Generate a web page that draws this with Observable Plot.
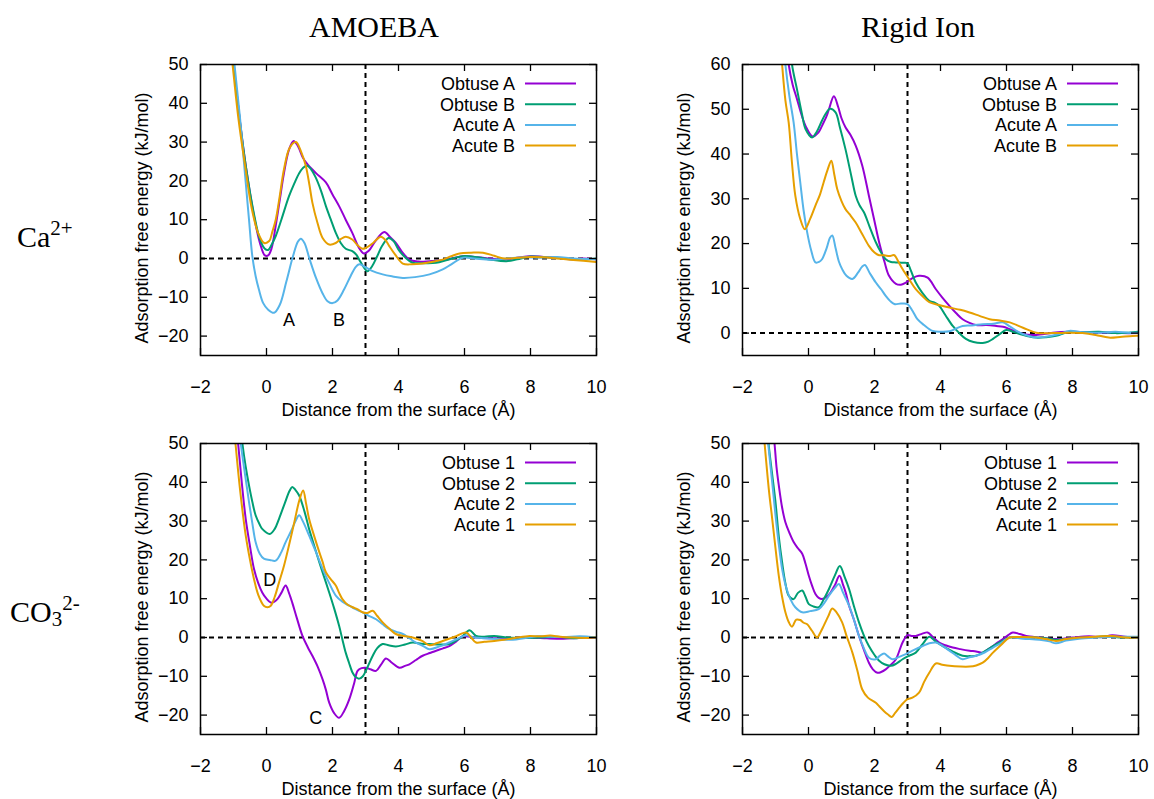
<!DOCTYPE html>
<html><head><meta charset="utf-8">
<script src="https://cdn.jsdelivr.net/npm/d3@7"></script>
<script src="https://cdn.jsdelivr.net/npm/@observablehq/plot@0.6"></script>
<style>
body{margin:0;background:#fff;}
#root{position:relative;width:1154px;height:799px;overflow:hidden;background:#fff;}
.title{position:absolute;font-family:"Liberation Serif","Times New Roman",serif;font-size:30px;line-height:30px;white-space:nowrap;color:#000;}
.center{transform:translateX(-50%);}
.sup{font-size:21px;position:relative;top:-12px;}
.sub{font-size:21px;position:relative;top:4px;}
.panel{position:absolute;}
</style></head>
<body><div id="root"></div>
<script>
// ---------- labels ----------
const columnTitles = ["AMOEBA", "Rigid Ion"];
const xLabel = "Distance from the surface (Å)";
const yLabel = "Adsorption free energy (kJ/mol)";
const caLegend = ["Obtuse A", "Obtuse B", "Acute A", "Acute B"];
const co3Legend = ["Obtuse 1", "Obtuse 2", "Acute 2", "Acute 1"];
const seriesColors = ["#9400d3", "#009e73", "#56b4e9", "#e69f00"];
const xTicks = [-2, 0, 2, 4, 6, 8, 10];
const yTicksA = [-20, -10, 0, 10, 20, 30, 40, 50];
const yTicksRigidCa = [0, 10, 20, 30, 40, 50, 60];
const refY = [0];
const refX = [3];

// ---------- AMOEBA, Ca2+ ----------
const amoebaCaObtuseA = [[-1.15,62],[-1.0,50],[-0.8,35],[-0.63,24],[-0.38,11],[-0.2,4],[-0.05,0.8],[0.05,0.8],[0.15,2.5],[0.28,8.5],[0.4,15],[0.53,22],[0.68,28],[0.82,30.3],[0.95,29],[1.1,26],[1.24,24.3],[1.5,22],[1.8,19.6],[2.0,16.5],[2.2,13.5],[2.4,10],[2.6,6.6],[2.8,2.8],[2.95,1.3],[3.1,2],[3.3,4.5],[3.57,6.8],[3.75,5.5],[3.92,4],[4.1,1.8],[4.33,-0.3],[4.6,-0.8],[4.94,-0.7],[5.3,-0.5],[5.6,0],[5.95,0.6],[6.3,0.4],[6.8,0],[7.2,-0.3],[7.6,0.2],[8.0,0.6],[8.4,0.4],[8.8,0.2],[9.2,-0.2],[9.6,0],[10,-0.2]];
const amoebaCaObtuseB = [[-1.15,62],[-1.0,50],[-0.8,35],[-0.63,24],[-0.38,11.5],[-0.2,5],[-0.05,2.5],[0.05,2.2],[0.15,3.5],[0.28,5.8],[0.45,10],[0.68,16],[0.85,19.5],[0.99,22],[1.1,23.3],[1.22,24],[1.35,23],[1.49,20.9],[1.65,17.5],[1.8,13.5],[1.95,10],[2.1,6.6],[2.25,4],[2.4,2.5],[2.6,1.9],[2.72,1],[2.81,-0.3],[2.95,-2.3],[3.06,-3.3],[3.2,-2],[3.35,0.5],[3.5,3.2],[3.7,5.3],[3.85,4.5],[4.0,2.3],[4.2,0.3],[4.43,-1.1],[4.8,-1.2],[5.14,-1.1],[5.5,-0.3],[5.95,0.6],[6.4,0.3],[6.8,-0.3],[7.27,-0.7],[7.6,-0.2],[8.0,0.5],[8.5,0.3],[9.0,0],[9.5,-0.3],[10,0]];
const amoebaCaAcuteA = [[-1.1,62],[-0.97,50],[-0.8,36],[-0.63,19.6],[-0.53,10],[-0.43,0.6],[-0.33,-4.5],[-0.23,-8],[-0.1,-11.5],[0.05,-13.2],[0.23,-14],[0.4,-12],[0.6,-6],[0.8,0.5],[0.95,4.3],[1.04,5.1],[1.15,4],[1.3,0],[1.5,-5],[1.7,-9],[1.85,-11],[2.0,-11.5],[2.15,-10.8],[2.35,-8],[2.55,-4.5],[2.7,-2.2],[2.81,-1.5],[2.95,-2],[3.2,-3.2],[3.52,-4.1],[3.8,-4.6],[4.13,-5],[4.5,-4.8],[4.94,-4.1],[5.34,-2.8],[5.6,-1.5],[5.95,0.2],[6.3,0],[6.8,-0.3],[7.3,0],[7.8,0.3],[8.3,0.2],[8.8,0.4],[9.3,0],[10,-0.2]];
const amoebaCaAcuteB = [[-1.2,62],[-1.03,50],[-0.85,36],[-0.65,24],[-0.45,13],[-0.25,6.5],[-0.07,4],[0.08,4.5],[0.18,7],[0.28,10],[0.4,16],[0.53,23],[0.7,28.5],[0.89,30],[1.05,27.5],[1.19,23.9],[1.3,19],[1.39,14.4],[1.55,9],[1.7,5.3],[1.9,3.6],[2.1,4],[2.25,5],[2.4,5.6],[2.6,4.9],[2.75,3.5],[2.91,2.5],[3.0,2.7],[3.2,3.8],[3.35,5],[3.47,5.6],[3.6,4.8],[3.72,3.2],[3.9,1],[4.13,-1.3],[4.4,-1.5],[4.73,-1.3],[5.0,-0.9],[5.34,-0.3],[5.6,0.6],[5.85,1.3],[6.2,1.5],[6.56,1.5],[6.9,0.7],[7.2,0],[7.6,0.2],[8.0,0.4],[8.4,0.3],[8.8,0],[9.2,-0.3],[9.6,-0.6],[10,-0.9]];

// ---------- Rigid Ion, Ca2+ ----------
const rigidCaObtuseA = [[-0.72,70],[-0.6,60],[-0.48,55.5],[-0.35,52.3],[-0.2,48.5],[-0.09,46.3],[0.13,43.9],[0.3,44.8],[0.41,46.3],[0.55,48.5],[0.62,50],[0.77,52.9],[0.9,50.5],[1.0,48],[1.12,46],[1.27,44.3],[1.43,41.9],[1.63,37.4],[1.83,30.7],[2.0,25],[2.14,20.3],[2.3,16],[2.44,12.8],[2.65,11],[2.8,10.8],[2.95,11.3],[3.15,12.3],[3.35,12.8],[3.61,12.4],[3.86,9.8],[4.05,8],[4.27,6.1],[4.47,4.5],[4.67,3.1],[4.88,2.3],[5.08,1.8],[5.4,1.8],[5.69,1.6],[5.9,1.4],[6.1,0.9],[6.5,-0.2],[6.9,-0.4],[7.4,0.1],[7.9,0.3],[8.4,0.2],[9.0,0.1],[9.5,0],[10,0]];
const rigidCaObtuseB = [[-0.62,70],[-0.5,60],[-0.35,54.5],[-0.2,49],[-0.09,45.6],[0.11,43.7],[0.25,45],[0.41,47.5],[0.52,49],[0.65,50.1],[0.82,49.3],[0.95,46],[1.12,41.1],[1.3,35],[1.43,30.7],[1.55,28.5],[1.68,27],[1.85,23.8],[2.04,20.3],[2.2,18],[2.34,16.5],[2.5,15.9],[2.65,15.8],[2.85,15.7],[3.0,15.6],[3.1,14],[3.25,11.3],[3.45,9],[3.66,7.2],[3.82,6.8],[3.96,6.1],[4.15,4],[4.37,1.6],[4.57,0],[4.77,-1.3],[5.0,-2],[5.28,-2.2],[5.45,-1.9],[5.59,-1.3],[5.8,-0.2],[5.99,0.7],[6.2,0.3],[6.4,-0.2],[6.65,-0.7],[6.9,-1],[7.2,-0.9],[7.5,-0.6],[7.9,0.3],[8.3,0.2],[8.8,0.3],[9.3,0],[9.7,0.1],[10,0.3]];
const rigidCaAcuteA = [[-0.82,70],[-0.7,60],[-0.58,53],[-0.45,47],[-0.35,40],[-0.25,33.7],[-0.15,27.5],[-0.04,22.5],[0.08,18.5],[0.21,15.8],[0.32,15.9],[0.41,16.5],[0.55,19],[0.65,21.3],[0.72,21.8],[0.82,19],[0.92,16],[1.02,14.3],[1.15,12.8],[1.33,12.1],[1.5,13.5],[1.62,14.8],[1.71,15.2],[1.85,13.5],[2.04,11.3],[2.2,9.8],[2.34,8.3],[2.47,7.2],[2.6,6.5],[2.8,6.6],[3.0,6.5],[3.15,5],[3.3,3.1],[3.5,1.8],[3.76,0.5],[4.0,0.3],[4.27,0.4],[4.47,1],[4.67,1.6],[4.95,1.7],[5.28,2.0],[5.6,2.1],[5.89,2.4],[6.1,1.5],[6.4,0.1],[6.65,-0.6],[6.9,-1],[7.2,-0.8],[7.6,-0.2],[7.9,0.5],[8.3,0.2],[8.8,0.1],[9.3,0.3],[9.7,0.1],[10,0.1]];
const rigidCaAcuteB = [[-0.9,70],[-0.8,60],[-0.7,52],[-0.6,47],[-0.5,38],[-0.4,30.7],[-0.25,25.5],[-0.11,23.2],[0.05,25.5],[0.21,28.5],[0.35,31],[0.46,33.7],[0.58,36.5],[0.69,38.5],[0.78,35.5],[0.87,32.2],[1.0,29.5],[1.12,27.7],[1.25,26.5],[1.43,24.7],[1.6,22.5],[1.83,19.5],[2.0,18],[2.14,17.4],[2.3,17.4],[2.45,17.2],[2.6,17.4],[2.72,16],[2.85,14.3],[3.05,12],[3.25,9.8],[3.45,8.3],[3.66,6.9],[3.95,6.3],[4.27,5.7],[4.6,5.2],[4.88,4.6],[5.2,3.8],[5.49,3.1],[5.8,2.8],[6.1,2.4],[6.5,1.2],[6.9,0.1],[7.4,0],[7.9,0.1],[8.3,0],[8.7,-0.4],[9.1,-1],[9.5,-0.8],[9.95,-0.6],[10,-0.6]];

// ---------- AMOEBA, CO3 2- ----------
const amoebaCo3Obtuse1 = [[-0.98,60],[-0.86,50],[-0.75,40],[-0.63,30.6],[-0.5,23.5],[-0.38,17.7],[-0.25,14],[-0.13,11.6],[0.0,10],[0.13,9],[0.23,9.2],[0.33,9.9],[0.45,11.5],[0.58,13.4],[0.68,11.5],[0.78,9],[0.92,5],[1.09,0.4],[1.25,-2.5],[1.39,-4.7],[1.55,-7.5],[1.7,-10.8],[1.8,-13.5],[1.9,-16.8],[2.05,-19.5],[2.2,-20.7],[2.35,-19],[2.51,-15.9],[2.65,-12],[2.76,-8.6],[2.88,-7.9],[3.01,-7.8],[3.15,-8.2],[3.32,-8.6],[3.47,-7],[3.62,-5.4],[3.8,-6.5],[4.03,-7.8],[4.2,-7.3],[4.33,-6.9],[4.53,-5.8],[4.73,-4.7],[4.95,-4],[5.14,-3.4],[5.35,-2.8],[5.54,-2.2],[5.75,-1],[5.95,0.3],[6.2,0.1],[6.5,-0.1],[7.0,-0.2],[7.5,-0.1],[8.0,0],[8.5,-0.2],[9.0,-0.3],[9.5,-0.1],[10,-0.1]];
const amoebaCo3Obtuse2 = [[-0.85,60],[-0.73,50],[-0.63,44],[-0.53,39.2],[-0.43,35],[-0.33,31.5],[-0.2,29],[-0.13,28],[0.1,26.7],[0.25,28],[0.38,30.6],[0.55,34.5],[0.7,37.8],[0.78,38.8],[0.88,38],[0.99,36.6],[1.15,32.5],[1.29,28],[1.45,23.5],[1.6,19.4],[1.75,15.5],[1.9,11.6],[2.05,7.5],[2.2,3],[2.3,-0.5],[2.4,-3.9],[2.5,-6.5],[2.61,-9.1],[2.7,-10.2],[2.81,-10.6],[2.92,-10],[3.01,-8.6],[3.12,-6.5],[3.22,-4.7],[3.35,-2.8],[3.52,-1.7],[3.7,-2],[3.92,-2.3],[4.2,-1.8],[4.43,-1.3],[4.7,-1.6],[4.94,-1.7],[5.25,-1.8],[5.54,-1.7],[5.8,-0.5],[5.95,0.4],[6.15,1.9],[6.35,0.4],[6.6,0.2],[6.9,0.4],[7.3,0],[7.8,-0.1],[8.3,0],[8.8,0.2],[9.3,-0.2],[9.7,0.1],[10,0]];
const amoebaCo3Acute2 = [[-0.9,60],[-0.78,50],[-0.65,42],[-0.53,34.9],[-0.43,29.5],[-0.33,24.6],[-0.2,21.5],[-0.08,20.3],[0.1,20],[0.28,19.8],[0.45,22],[0.58,24.6],[0.75,27.5],[0.88,30],[0.99,31.5],[1.1,30],[1.29,26.3],[1.5,22],[1.7,17.7],[1.9,14],[2.1,10.8],[2.3,9.2],[2.51,8.2],[2.7,7.3],[2.91,6.5],[3.1,5.6],[3.32,4.7],[3.52,3.4],[3.72,2.2],[3.92,1.5],[4.13,0.9],[4.33,-0.2],[4.53,-1.3],[4.75,-2.2],[4.94,-3],[5.25,-2.3],[5.54,-1.3],[5.8,-0.3],[6.05,0.6],[6.3,0],[6.6,-0.2],[7.0,-0.4],[7.47,-0.6],[7.8,-0.2],[8.2,0.3],[8.6,0.2],[9.0,0.1],[9.5,0.3],[10,0]];
const amoebaCo3Acute1 = [[-1.05,60],[-0.94,50],[-0.8,38],[-0.63,26.3],[-0.5,20],[-0.38,15.1],[-0.25,11],[-0.08,8.2],[0.03,7.8],[0.13,8.2],[0.25,10.5],[0.38,14.2],[0.53,18.5],[0.68,23.7],[0.85,30],[1.0,35.5],[1.11,37.9],[1.2,34.5],[1.29,30.6],[1.45,26],[1.6,22],[1.7,19.5],[1.8,16.8],[1.95,15],[2.1,13.4],[2.2,11.5],[2.3,9.9],[2.45,8.5],[2.61,7.8],[2.75,7.3],[2.91,6.5],[3.05,6.3],[3.22,6.9],[3.35,5.6],[3.52,3.9],[3.72,2.3],[3.92,0.9],[4.15,0.4],[4.43,0],[4.7,-0.8],[4.94,-2],[5.15,-1.5],[5.34,-0.9],[5.7,0.2],[6.05,1.3],[6.2,0],[6.35,-1.3],[6.6,-1.1],[6.9,-0.9],[7.2,-0.6],[7.6,0],[7.97,0.4],[8.3,0.3],[8.6,0.5],[8.9,0.2],[9.3,0],[9.7,-0.1],[10,0]];

// ---------- Rigid Ion, CO3 2- ----------
const rigidCo3Obtuse1 = [[-1.1,55],[-1.03,50],[-0.97,44],[-0.9,39.2],[-0.8,33.5],[-0.7,29.7],[-0.58,27],[-0.45,24.6],[-0.32,23],[-0.19,21.6],[-0.09,19],[0.01,15.9],[0.11,13.3],[0.21,11.2],[0.31,10.2],[0.41,9.9],[0.55,10.5],[0.67,11.6],[0.8,13.5],[0.94,15.9],[1.05,13.5],[1.13,11.5],[1.23,8.2],[1.38,4.5],[1.53,0.4],[1.68,-3.2],[1.83,-6.5],[1.95,-8.2],[2.09,-9.1],[2.2,-8.9],[2.34,-8.2],[2.5,-7],[2.65,-5.6],[2.75,-3.5],[2.85,-1.3],[3.0,0.6],[3.12,0.4],[3.25,0.4],[3.45,1],[3.61,1.3],[3.78,0],[3.96,-1.3],[4.15,-2],[4.37,-2.6],[4.6,-3],[4.88,-3.4],[5.08,-3.6],[5.28,-3.9],[5.45,-3],[5.59,-2.2],[5.75,-1.2],[5.89,-0.4],[6.05,0.6],[6.19,1.3],[6.4,0.9],[6.6,0.4],[7.0,0],[7.5,-0.4],[8.0,0],[8.5,0.3],[8.9,0.1],[9.2,0.6],[9.6,0.2],[10,0]];
const rigidCo3Obtuse2 = [[-1.3,60],[-1.21,50],[-1.1,42],[-1.0,34.9],[-0.9,26],[-0.8,19.4],[-0.7,14],[-0.6,10.8],[-0.45,9.9],[-0.32,11.5],[-0.19,12.1],[-0.09,10.5],[0.01,8.6],[0.15,8],[0.31,7.8],[0.47,10],[0.62,12.5],[0.8,16],[0.95,18.4],[1.1,15.5],[1.23,12.5],[1.38,8],[1.53,3.9],[1.68,0.5],[1.83,-2.2],[2.0,-4.5],[2.14,-6],[2.3,-6.9],[2.49,-7.3],[2.65,-6.8],[2.85,-5.6],[3.05,-4.7],[3.25,-3.9],[3.45,-1.8],[3.66,0.2],[3.85,-1],[4.07,-2.2],[4.35,-3.5],[4.67,-4.7],[4.88,-4.8],[5.08,-4.7],[5.35,-3.5],[5.59,-2.2],[5.85,-1],[6.09,0],[6.4,0.1],[6.9,0],[7.3,-0.3],[7.5,-0.6],[8.0,-0.2],[8.5,0],[9.0,0.3],[9.5,0],[10,0]];
const rigidCo3Acute2 = [[-1.3,60],[-1.22,50],[-1.1,40],[-1.0,31.5],[-0.9,24],[-0.8,17.7],[-0.68,13],[-0.55,9.9],[-0.4,7.8],[-0.19,6.5],[0.05,6.8],[0.31,7.3],[0.47,8.8],[0.62,10.8],[0.8,12.8],[0.92,13.8],[1.05,11.5],[1.23,8.2],[1.38,4.5],[1.53,0.4],[1.68,-2.8],[1.83,-5.2],[2.04,-5.6],[2.15,-4.8],[2.29,-4.1],[2.4,-4.8],[2.54,-5.6],[2.75,-5],[2.95,-4.3],[3.2,-3.2],[3.46,-2.2],[3.66,-1.5],[3.86,-1.3],[4.07,-2.2],[4.27,-3.4],[4.47,-4.6],[4.67,-5.6],[4.88,-5.1],[5.08,-4.7],[5.35,-3.8],[5.59,-2.6],[5.85,-1.3],[6.09,0],[6.5,-0.3],[7.0,-0.6],[7.3,-1],[7.5,-1.5],[7.8,-0.8],[8.2,-0.3],[8.7,0],[9.2,0.2],[9.6,0.2],[10,0.2]];
const rigidCo3Acute1 = [[-1.43,60],[-1.33,50],[-1.2,38],[-1.1,30.6],[-1.0,23],[-0.9,15.9],[-0.8,10.5],[-0.7,6.5],[-0.6,4],[-0.5,2.8],[-0.37,4.6],[-0.25,4.5],[-0.15,3.8],[-0.04,3.4],[0.1,1.8],[0.26,0],[0.36,1.3],[0.46,3],[0.6,5.5],[0.72,7.5],[0.85,6.5],[1.02,3.9],[1.15,0.5],[1.33,-3.9],[1.48,-8.5],[1.63,-13.4],[1.8,-15.5],[2.04,-16.8],[2.15,-17.8],[2.29,-19],[2.4,-19.8],[2.52,-20.5],[2.62,-19.5],[2.75,-18.1],[2.88,-16.8],[3.0,-15.9],[3.15,-15.5],[3.35,-14.2],[3.5,-11.5],[3.66,-9.1],[3.86,-6.7],[4.05,-7],[4.27,-7.3],[4.6,-7.5],[4.88,-7.5],[5.08,-7.2],[5.28,-6.5],[5.45,-5.2],[5.59,-3.9],[5.85,-1.8],[6.09,0],[6.4,0.1],[6.9,0],[7.2,-0.4],[7.5,-0.9],[7.8,-0.4],[8.2,0],[8.7,0.2],[9.2,0.4],[9.6,0],[10,0]];

// ---------- annotations ----------
const amoebaCaNotes = [{x: 0.68, y: -15.8, label: "A"}, {x: 2.2, y: -15.8, label: "B"}];
const amoebaCo3Notes = [{x: 1.49, y: -20.7, label: "C"}, {x: 0.1, y: 14.7, label: "D"}];

// ---------- drawing ----------
const SANS = "'Liberation Sans', Arial, Helvetica, sans-serif";
const FW = 396, FH = 291;
const M = {left: 90, top: 20, right: 15, bottom: 75};

function legendMark(names) {
  return (index, scales, values, dims) => {
    const g = d3.create("svg:g").attr("font-family", SANS).attr("font-size", 18).attr("fill", "black");
    const right = dims.width - dims.marginRight;
    const top = dims.marginTop;
    names.forEach((n, i) => {
      const cy = top + 19.5 + i * 20.7;
      g.append("text").attr("x", right - 81).attr("y", cy).attr("dy", "0.35em").attr("text-anchor", "end").text(n);
      g.append("line").attr("x1", right - 71).attr("x2", right - 20).attr("y1", cy).attr("y2", cy)
        .attr("stroke", seriesColors[i]).attr("stroke-width", 2);
    });
    return g.node();
  };
}

function panel({series, names, yDomain, yTicks, notes, left, top}) {
  const dash = {stroke: "black", strokeWidth: 2, strokeDasharray: "5,4"};
  const tickStyle = {stroke: "black", strokeWidth: 1.3};
  const marks = [
    Plot.ruleY(refY, {y: d => d, ...dash}),
    Plot.ruleX(refX, {x: d => d, ...dash}),
    ...series.map((s, i) => Plot.line(s, {x: d => d[0], y: d => d[1], stroke: seriesColors[i], strokeWidth: 2, curve: "catmull-rom", clip: true})),
    Plot.tickX(xTicks, {x: d => d, insetTop: FH - 7, ...tickStyle}),
    Plot.tickX(xTicks, {x: d => d, insetBottom: FH - 7, ...tickStyle}),
    Plot.tickY(yTicks, {y: d => d, insetRight: FW - 7, ...tickStyle}),
    Plot.tickY(yTicks, {y: d => d, insetLeft: FW - 7, ...tickStyle}),
    Plot.frame({stroke: "black", strokeWidth: 1.5}),
    Plot.axisX({ticks: xTicks, tickSize: 0, tickPadding: 25, label: null, fontSize: 18}),
    Plot.axisY({ticks: yTicks, tickSize: 0, tickPadding: 12, label: null, fontSize: 18}),
    Plot.text([xLabel], {frameAnchor: "bottom", textAnchor: "middle", lineAnchor: "bottom", dy: 60, text: d => d, fontSize: 18}),
    Plot.text([yLabel], {frameAnchor: "left", textAnchor: "middle", lineAnchor: "middle", dx: -58, dy: 8, rotate: -90, text: d => d, fontSize: 18}),
    Plot.text(notes || [], {x: "x", y: "y", text: "label", fontSize: 18}),
    legendMark(names)
  ];
  const p = Plot.plot({
    width: M.left + FW + M.right,
    height: M.top + FH + M.bottom,
    marginLeft: M.left, marginTop: M.top, marginRight: M.right, marginBottom: M.bottom,
    x: {domain: [-2, 10]},
    y: {domain: yDomain},
    style: {fontFamily: SANS, fontSize: "18px", color: "black", background: "white", overflow: "visible"},
    marks
  });
  const div = document.createElement("div");
  div.className = "panel";
  div.style.left = left + "px";
  div.style.top = top + "px";
  div.appendChild(p);
  document.getElementById("root").appendChild(div);
}

panel({series: [amoebaCaObtuseA, amoebaCaObtuseB, amoebaCaAcuteA, amoebaCaAcuteB], names: caLegend,
  yDomain: [-25, 50], yTicks: yTicksA, notes: amoebaCaNotes, left: 110, top: 44});
panel({series: [rigidCaObtuseA, rigidCaObtuseB, rigidCaAcuteA, rigidCaAcuteB], names: caLegend,
  yDomain: [-5, 60], yTicks: yTicksRigidCa, notes: [], left: 652, top: 44});
panel({series: [amoebaCo3Obtuse1, amoebaCo3Obtuse2, amoebaCo3Acute2, amoebaCo3Acute1], names: co3Legend,
  yDomain: [-25, 50], yTicks: yTicksA, notes: amoebaCo3Notes, left: 110, top: 423});
panel({series: [rigidCo3Obtuse1, rigidCo3Obtuse2, rigidCo3Acute2, rigidCo3Acute1], names: co3Legend,
  yDomain: [-25, 50], yTicks: yTicksA, notes: [], left: 652, top: 423});

// titles and row labels
function addTitle(html, left, top, center) {
  const d = document.createElement("div");
  d.className = "title" + (center ? " center" : "");
  d.style.left = left + "px";
  d.style.top = top + "px";
  d.innerHTML = html;
  document.getElementById("root").appendChild(d);
}
addTitle(columnTitles[0], 374, 12, true);
addTitle(columnTitles[1], 918, 12, true);
addTitle('Ca<span class="sup">2+</span>', 17, 222, false);
addTitle('CO<span class="sub">3</span><span class="sup">2-</span>', 10, 597, false);
</script>
</body></html>
